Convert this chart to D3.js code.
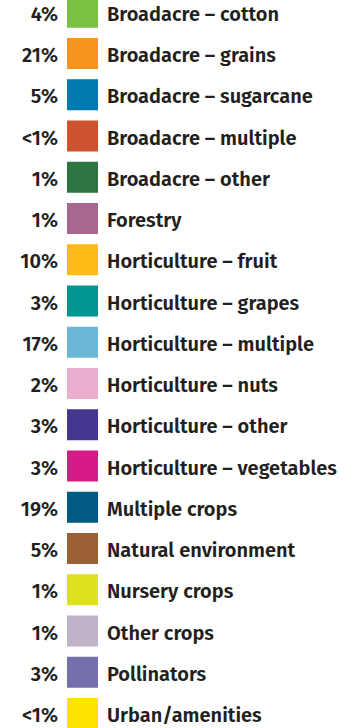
<!DOCTYPE html>
<html>
<head>
<meta charset="utf-8">
<script src="https://cdn.jsdelivr.net/npm/d3@7"></script>
<style>
  body { margin: 0; background: #fff; }
  text { font-family: "Fira Sans", "Noto Sans", sans-serif; font-weight: 600; fill: #231f20; }
</style>
</head>
<body>
<div id="chart"></div>
<script>
const categories = [
  "Broadacre – cotton", "Broadacre – grains", "Broadacre – sugarcane", "Broadacre – multiple",
  "Broadacre – other", "Forestry", "Horticulture – fruit", "Horticulture – grapes",
  "Horticulture – multiple", "Horticulture – nuts", "Horticulture – other", "Horticulture – vegetables",
  "Multiple crops", "Natural environment", "Nursery crops", "Other crops", "Pollinators", "Urban/amenities"
];
const shares = ["4%", "21%", "5%", "<1%", "1%", "1%", "10%", "3%", "17%", "2%", "3%", "3%", "19%", "5%", "1%", "1%", "3%", "<1%"];
const colors = [
  "#7ac143", "#f7941d", "#0078b0", "#cd5230", "#2e7342", "#a8678e", "#fdb914", "#00958f",
  "#6ab7d8", "#eaaecf", "#463690", "#d71a87", "#005a82", "#9a5f33", "#dde21f", "#c1b4ca", "#7570ad", "#ffe300"
];

const width = 358;
const height = 728;
const step = 41.25;
const swatch = 31;
const top0 = -3.25;

const svg = d3.select("#chart")
  .append("svg")
  .attr("width", width)
  .attr("height", height);

const y = d3.scaleBand()
  .domain(categories)
  .range([top0, top0 + step * (categories.length - 1) + swatch])
  .paddingInner(1 - swatch / step)
  .paddingOuter(0)
  .align(0);

const rows = svg.selectAll(".row")
  .data(categories)
  .join("g")
  .attr("class", "row")
  .attr("transform", d => `translate(0, ${y(d)})`);

rows.append("rect")
  .attr("x", 67)
  .attr("width", swatch)
  .attr("height", y.bandwidth())
  .style("fill", (d, i) => colors[i]);

rows.append("text")
  .attr("x", 58)
  .attr("y", 24)
  .attr("text-anchor", "end")
  .style("font-size", "20px")
  .text((d, i) => shares[i]);

rows.append("text")
  .attr("x", 107)
  .attr("y", 24)
  .style("font-size", "20px")
  .text(d => d);
</script>
</body>
</html>
